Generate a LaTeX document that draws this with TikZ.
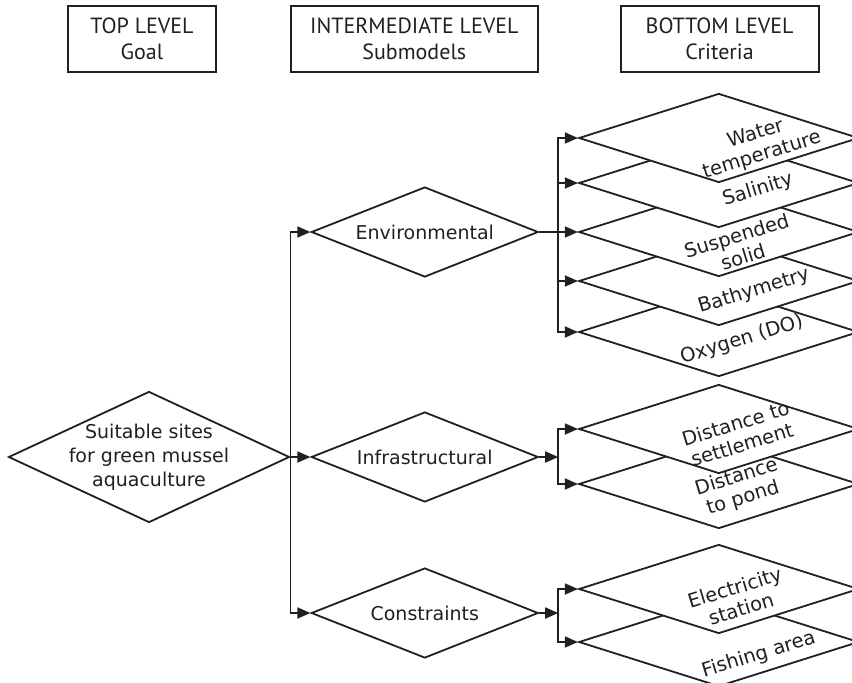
\documentclass[tikz,border=0pt]{standalone}
\usepackage{fontspec}
\setmainfont{DejaVu Sans}
\newfontfamily\headfont{PT Sans}
\usepackage{xcolor}
\definecolor{ink}{HTML}{231F20}
\usepackage{tikz}
\usetikzlibrary{arrows.meta}
\tikzset{arrow/.style = {> = {Triangle[length = 13pt, width = 11pt]}}}
\usetikzlibrary{positioning}
\usetikzlibrary{shapes.geometric}
\tikzset{
	levelbox/.style = {draw, minimum height = 66pt, align = center, font = \headfont\fontsize{22}{26}\selectfont},
	goalshape/.style = {diamond, draw, fill = white, aspect = 2.15, inner sep = -6pt, minimum width = 281pt, minimum height = 131pt, align = center, font = \fontsize{19}{24}\selectfont},
	submodel/.style = {diamond, draw, fill = white, aspect = 2.5, inner sep = 0pt, minimum width = 227pt, minimum height = 90pt, font = \fontsize{19}{24}\selectfont},
	criterion/.style = {diamond, draw, fill = white, inner sep = 0pt, minimum width = 280pt, minimum height = 89pt},
	critlabel/.style = {rotate = 17, align = center, inner sep = 0pt, font = \fontsize{19.5}{22}\selectfont}
}

\begin{document}
\begin{tikzpicture}[x = 1pt, y = -1pt, color = ink, line width = 1.8pt]
	\useasboundingbox (0, 0) rectangle (852, 683);

	%% Header
	\node[levelbox, minimum width = 148pt] (toplevel) at (142, 39) {TOP LEVEL\\Goal};
	\node[levelbox, minimum width = 247pt, right = 73pt of toplevel] (midlevel) {INTERMEDIATE LEVEL\\Submodels};
	\node[levelbox, minimum width = 198pt, right = 81pt of midlevel] (botlevel) {BOTTOM LEVEL\\Criteria};

	%% Level 0
	\node[goalshape] (goal) at (149, 457) {Suitable sites\\for green mussel\\aquaculture};

	%% Level 1
	\node[submodel, right = 20pt of goal] (infra) {Infrastructural};
	\node[submodel, on grid, above = 225pt of infra] (env) {Environmental};
	\node[submodel, on grid, below = 156pt of infra] (constr) {Constraints};

	%% Level 2 (drawn from the bottom up, so the upper ones overlap)
	\node[criterion, on grid, below right = 100pt and 294pt of env] (oxygen) {};
	\node[criterion, on grid, above = 51pt of oxygen] (bathy) {};
	\node[criterion, on grid, above = 49pt of bathy] (solid) {};
	\node[criterion, on grid, above = 49pt of solid] (salinity) {};
	\node[criterion, on grid, above = 45pt of salinity] (watertemp) {};

	\node[criterion, on grid, below right = 27pt and 294pt of infra] (pond) {};
	\node[criterion, on grid, above = 55pt of pond] (settlement) {};

	\node[criterion, on grid, below right = 29pt and 294pt of constr] (fishing) {};
	\node[criterion, on grid, above = 53pt of fishing] (electricity) {};

	% criteria texts
	\node[critlabel] (watertemp-txt) at ([shift = {(40, 7)}] watertemp.center) {Water\\temperature};
	\node[critlabel] (salinity-txt) at ([shift = {(39, 7)}] salinity.center) {Salinity};
	\node[critlabel] (solid-txt) at ([shift = {(21, 14)}] solid.center) {Suspended\\solid};
	\node[critlabel] (bathy-txt) at ([shift = {(35, 10)}] bathy.center) {Bathymetry};
	\node[critlabel] (oxygen-txt) at ([shift = {(23, 8)}] oxygen.center) {Oxygen (DO)};
	\node[critlabel] (settlement-txt) at ([shift = {(20, 5)}] settlement.center) {Distance to\\settlement};
	\node[critlabel] (pond-txt) at ([shift = {(21, 4)}] pond.center) {Distance\\to pond};
	\node[critlabel] (electricity-txt) at ([shift = {(19, 9)}] electricity.center) {Electricity\\station};
	\node[critlabel] (fishing-txt) at ([shift = {(40, 13)}] fishing.center) {Fishing area};

	%% Connectors
	\draw[arrow, ->] (goal.east) |- (env.west);
	\draw[arrow, ->] (goal.east) -- (infra.west);
	\draw[arrow, ->] (goal.east) |- (constr.west);

	\coordinate[right = 19pt of env.east] (envbus);
	\draw (env.east) -- (envbus);
	\foreach \crit in {watertemp, salinity, solid, bathy, oxygen}
		\draw[arrow, ->] (envbus) |- (\crit.west);

	\coordinate[right = 19pt of infra.east] (infrabus);
	\draw[arrow, ->] (infra.east) -- (infrabus);
	\foreach \crit in {settlement, pond}
		\draw[arrow, ->] (infrabus) |- (\crit.west);

	\coordinate[right = 19pt of constr.east] (constrbus);
	\draw[arrow, ->] (constr.east) -- (constrbus);
	\foreach \crit in {electricity, fishing}
		\draw[arrow, ->] (constrbus) |- (\crit.west);

\end{tikzpicture}
\end{document}
